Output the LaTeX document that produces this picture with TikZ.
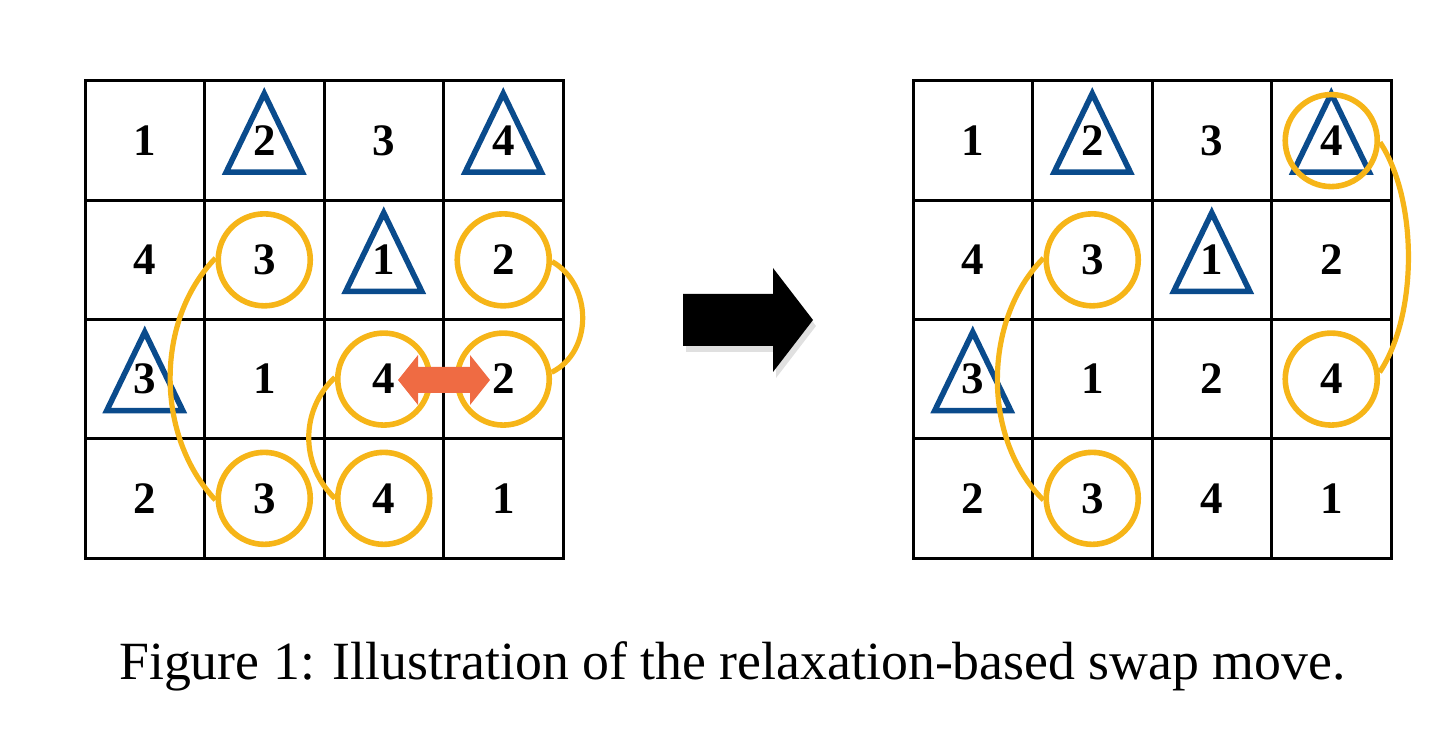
\documentclass[tikz,border=0pt]{standalone}
\usepackage{fontspec}
\setmainfont{Liberation Serif}
\definecolor{triblue}{HTML}{0A4B8C}
\definecolor{ringyellow}{HTML}{F6B518}
\definecolor{swaporange}{HTML}{EF6B43}
\pgfdeclarelayer{background}
\pgfsetlayers{background,main}
\tikzset{
  cellbox/.style={draw=black, line width=1.5pt, minimum size=59.75pt, inner sep=0pt,
    font=\fontsize{22.5}{22.5}\selectfont\bfseries},
  tribox/.style={draw=triblue, line width=2.8pt, line join=miter},
  ring/.style={circle, draw=ringyellow, line width=2.8pt, minimum size=46pt, inner sep=0pt},
  link/.style={draw=ringyellow, line width=2.6pt},
  swaparrow/.style={fill=swaporange},
  bigarrow/.style={fill=black},
  arrowshadow/.style={fill=black, opacity=0.12},
  capt/.style={font=\fontsize{26.9}{26.9}\selectfont, anchor=base, inner sep=0pt},
}
\begin{document}
\begin{tikzpicture}[x=0.5pt,y=-0.5pt]
\useasboundingbox (0,0) rectangle (1442,732);
% left grid
\foreach \v [count=\i from 0] in {1,2,3,4, 4,3,1,2, 3,1,4,2, 2,3,4,1}{
  \pgfmathtruncatemacro\r{int(\i/4)}
  \pgfmathtruncatemacro\c{mod(\i,4)}
  \node[cellbox] (L-\r-\c) at ({144.75+119.5*\c},{140.6+119.25*\r}) {\v};
}
% right grid
\foreach \v [count=\i from 0] in {1,2,3,4, 4,3,1,2, 3,1,2,4, 2,3,4,1}{
  \pgfmathtruncatemacro\r{int(\i/4)}
  \pgfmathtruncatemacro\c{mod(\i,4)}
  \node[cellbox] (R-\r-\c) at ({972.75+119.5*\c},{140.6+119.25*\r}) {\v};
}
% triangles
\begin{pgfonlayer}{background}
\foreach \n in {L-0-1,L-0-3,L-1-2,L-2-0,R-0-1,R-0-3,R-1-2,R-2-0}
  \draw[tribox, shift={(\n)}] (0,-47) -- (38,31.5) -- (-38,31.5) -- cycle;
\end{pgfonlayer}
% rings
\foreach \n/\p in {Lc11/L-1-1,Lc13/L-1-3,Lc22/L-2-2,Lc23/L-2-3,Lc31/L-3-1,Lc32/L-3-2,
                   Rc03/R-0-3,Rc11/R-1-1,Rc23/R-2-3,Rc31/R-3-1}
  \node[ring] (\n) at (\p) {};
% links
\draw[link] (Lc11.178) .. controls (155,320) and (155,436) .. (Lc31.182);
\draw[link] (Lc22.178) .. controls (300,410) and (300,465) .. (Lc32.180);
\draw[link] (Lc13.-2) .. controls (593,285) and (593,352) .. (Lc23.8);
\draw[link] (Rc11.178) .. controls (982,320) and (982,440) .. (Rc31.182);
\draw[link] (Rc03.-2) .. controls (1418,200) and (1418,315) .. (Rc23.8);
% swap arrow
\fill[swaparrow] (398,380) -- (418,355) -- (418,367) -- (470,367) -- (470,355)
  -- (490,380) -- (470,405) -- (470,393) -- (418,393) -- (418,405) -- cycle;
% big arrow
\fill[arrowshadow] (686,300) -- (776,300) -- (776,274) -- (816,326) -- (776,378)
  -- (776,352) -- (686,352) -- cycle;
\fill[bigarrow] (683,294) -- (773,294) -- (773,268) -- (813,320) -- (773,372)
  -- (773,346) -- (683,346) -- cycle;
% caption
\node[capt] (caption) at (732.5,680) {Figure 1: Illustration of the relaxation-based swap move.};
\end{tikzpicture}
\end{document}
